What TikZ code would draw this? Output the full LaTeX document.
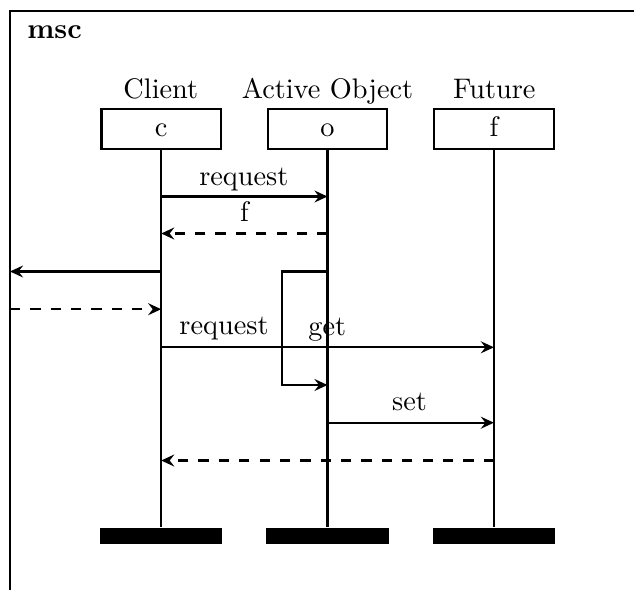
\documentclass[tikz,border=0pt]{standalone}
\usetikzlibrary{arrows.meta}
\begin{document}
\begin{tikzpicture}[x=0.3534pt, y=-0.3534pt, line width=0.75pt,
  inst/.style={draw, inner sep=0pt, minimum width=42.2pt, minimum height=14pt,
               text height=5.5pt, text depth=0pt},
  instend/.style={fill=black, inner sep=0pt, minimum width=43.3pt, minimum height=5.9pt},
  lbl/.style={inner sep=0pt, anchor=base},
  msg/.style={-{Stealth[length=4.6pt, width=4.2pt, inset=1.6pt]}},
  reply/.style={msg, dash pattern=on 3.6pt off 3.6pt}]
\clip (0,0) rectangle (634,589);

% diagram frame (runs past the visible area on the right and bottom)
\draw (10,11) rectangle (700,700);
\node[lbl, anchor=base west, font=\bfseries] (title) at (26.3,38.3) {msc};

% instance heads
\node[lbl] (nc) at (160.8,98) {Client};
\node[lbl] (no) at (327.5,98) {Active Object};
\node[lbl] (nf) at (494.3,98) {Future};
\node[inst] (c) at (161.2,129.2) {c};
\node[inst] (o) at (327.5,129.2) {o};
\node[inst] (f) at (493.9,129.2) {f};

% instance ends
\node[instend] (ce) at (161.2,536) {};
\node[instend] (oe) at (327.5,536) {};
\node[instend] (fe) at (493.9,536) {};

% lifelines
\draw (c.south) -- (ce.north);
\draw (o.south) -- (oe.north);
\draw (f.south) -- (fe.north);

% message levels
\coordinate (L1) at (0,196.5);
\coordinate (L2) at (0,233.5);
\coordinate (L3) at (0,271.5);
\coordinate (L4) at (0,309.2);
\coordinate (L5) at (0,347.3);
\coordinate (L6) at (0,385);
\coordinate (L7) at (0,422.7);
\coordinate (L8) at (0,460.5);
\coordinate (env) at (10,0);
\coordinate (selfx) at (282.2,0);

% messages
\draw[msg] (c |- L1) -- (o |- L1);
\node[lbl] (m1) at (243.8,185) {request};
\draw[reply] (o |- L2) -- (c |- L2);
\node[lbl] (m2) at (244.5,221.7) {f};
\draw[msg] (c |- L3) -- (env |- L3);
\draw[reply] (env |- L4) -- (c |- L4);
\draw[msg] (o |- L3) -| (selfx |- L6) -- (o |- L6);
\node[lbl] (m3) at (224,334) {request};
\draw[msg] (c |- L5) -- (f |- L5);
\node[lbl] (m4) at (327.3,335) {get};
\draw[msg] (o |- L7) -- (f |- L7);
\node[lbl] (m5) at (409.5,410.5) {set};
\draw[reply] (f |- L8) -- (c |- L8);
\end{tikzpicture}
\end{document}
